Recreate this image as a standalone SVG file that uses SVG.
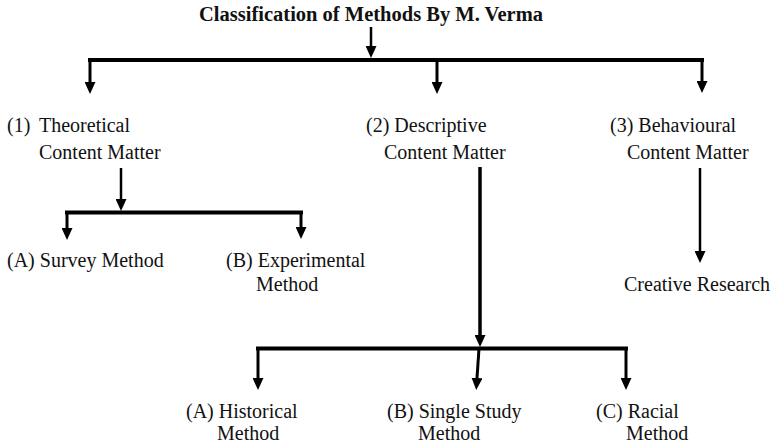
<svg xmlns="http://www.w3.org/2000/svg" width="773" height="444" viewBox="0 0 773 444">
  <style>
    text { font-family: "Liberation Serif", "Times New Roman", "DejaVu Serif", serif; fill: #111; }
    .lbl { font-size: 20px; }
    .title { font-size: 20.5px; font-weight: bold; }
    .bar { stroke: #000; stroke-width: 4; fill: none; stroke-linecap: square; }
    .trunk { stroke: #000; stroke-width: 3.5; fill: none; }
    .drop { stroke: #000; stroke-width: 3; fill: none; marker-end: url(#head); }
    .stem { stroke: #000; stroke-width: 2.5; fill: none; marker-end: url(#head); }
  </style>
  <defs>
    <marker id="head" markerUnits="userSpaceOnUse" markerWidth="12" markerHeight="11" refX="0" refY="5.5" orient="auto">
      <path d="M0,0 L12,5.5 L0,11 z" fill="#000"/>
    </marker>
  </defs>
  <rect width="773" height="444" fill="#fff"/>

  <g id="title">
    <text class="title" x="371" y="21" text-anchor="middle" font-family="Liberation Serif, serif">Classification of Methods By M. Verma</text>
  </g>

  <g id="theoretical">
    <text class="lbl" y="132"><tspan x="7">(1)</tspan><tspan x="39">Theoretical</tspan></text>
    <text class="lbl" x="39" y="159">Content Matter</text>
  </g>
  <g id="descriptive">
    <text class="lbl" x="366" y="132">(2) Descriptive</text>
    <text class="lbl" x="384" y="159">Content Matter</text>
  </g>
  <g id="behavioural">
    <text class="lbl" x="610" y="132">(3) Behavioural</text>
    <text class="lbl" x="627" y="159">Content Matter</text>
  </g>

  <g id="survey">
    <text class="lbl" x="7" y="267">(A) Survey Method</text>
  </g>
  <g id="experimental">
    <text class="lbl" x="226" y="267">(B) Experimental</text>
    <text class="lbl" x="256" y="291">Method</text>
  </g>
  <g id="creative">
    <text class="lbl" x="624" y="291">Creative Research</text>
  </g>

  <g id="historical">
    <text class="lbl" x="186" y="418">(A) Historical</text>
    <text class="lbl" x="217" y="440">Method</text>
  </g>
  <g id="single-study">
    <text class="lbl" x="387" y="418">(B) Single Study</text>
    <text class="lbl" x="418" y="440">Method</text>
  </g>
  <g id="racial">
    <text class="lbl" x="596" y="418">(C) Racial</text>
    <text class="lbl" x="626" y="440">Method</text>
  </g>

  <g id="connectors">
    <!-- title to the three content matters -->
    <line class="stem" x1="371" y1="27" x2="371" y2="46"/>
    <line class="bar" x1="90" y1="60" x2="702" y2="60"/>
    <line class="drop" x1="90" y1="60" x2="90" y2="82"/>
    <line class="drop" x1="437" y1="60" x2="437" y2="82"/>
    <line class="drop" x1="702" y1="60" x2="702" y2="81"/>

    <!-- theoretical branch -->
    <line class="stem" x1="121" y1="168" x2="121" y2="199"/>
    <line class="bar" x1="67" y1="212.5" x2="301" y2="212.5"/>
    <line class="drop" x1="67" y1="212.5" x2="67" y2="228"/>
    <line class="drop" x1="301" y1="212.5" x2="301" y2="227"/>

    <!-- descriptive branch -->
    <line class="trunk" x1="480" y1="167" x2="480" y2="335" marker-end="url(#head)"/>
    <line class="bar" x1="258" y1="348.5" x2="626" y2="348.5"/>
    <line class="drop" x1="258" y1="348.5" x2="258" y2="378"/>
    <line class="drop" x1="479" y1="348.5" x2="477" y2="378"/>
    <line class="drop" x1="626" y1="348.5" x2="626" y2="378"/>

    <!-- behavioural branch -->
    <line class="stem" x1="700" y1="168" x2="700" y2="251"/>
  </g>
</svg>
